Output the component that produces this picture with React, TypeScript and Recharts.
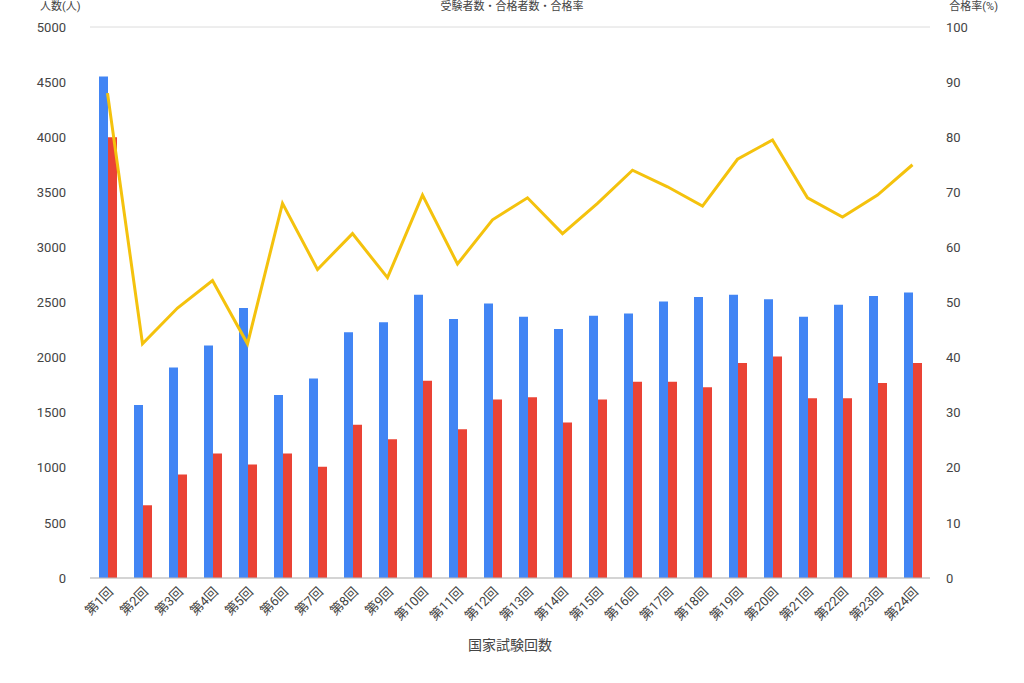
import { Bar, CartesianGrid, ComposedChart, Line, XAxis, YAxis } from "recharts";

// 国家試験 受験者数・合格者数・合格率

const rounds = [
  "第1回", "第2回", "第3回", "第4回", "第5回", "第6回", "第7回", "第8回",
  "第9回", "第10回", "第11回", "第12回", "第13回", "第14回", "第15回", "第16回",
  "第17回", "第18回", "第19回", "第20回", "第21回", "第22回", "第23回", "第24回",
];
const examinees = [
  4550, 1570, 1910, 2110, 2450, 1660, 1810, 2230, 2320, 2570, 2350, 2490,
  2370, 2260, 2380, 2400, 2510, 2550, 2570, 2530, 2370, 2480, 2560, 2590,
];
const passers = [
  4000, 660, 940, 1130, 1030, 1130, 1010, 1390, 1260, 1790, 1350, 1620,
  1640, 1410, 1620, 1780, 1780, 1730, 1950, 2010, 1630, 1630, 1770, 1950,
];
const passRate = [
  88, 42.5, 49, 54, 42.5, 68, 56, 62.5, 54.5, 69.5, 57, 65,
  69, 62.5, 68, 74, 71, 67.5, 76, 79.5, 69, 65.5, 69.5, 75,
];
const leftTicks = [0, 500, 1000, 1500, 2000, 2500, 3000, 3500, 4000, 4500, 5000];
const rightTicks = [0, 10, 20, 30, 40, 50, 60, 70, 80, 90, 100];

const data = rounds.map((r, i) => ({
  round: r,
  examinees: examinees[i],
  passers: passers[i],
  rate: passRate[i],
}));

const FONT = "Roboto, 'Noto Sans CJK JP', sans-serif";
const TICK = { fill: "#444", fontSize: 13, fontFamily: FONT };
const HEAD = { position: "absolute", top: 1, fontSize: 11, color: "#444", lineHeight: "12px" } as const;

export default function App() {
  return (
    <div style={{ position: "absolute", left: 0, top: 0, width: 1024, height: 683, background: "#fff", overflow: "hidden", fontFamily: FONT }}>
      <div style={{ ...HEAD, left: 40 }}>人数(人)</div>
      <div style={{ ...HEAD, left: 0, width: 1024, textAlign: "center" }}>受験者数・合格者数・合格率</div>
      <div style={{ ...HEAD, right: 26 }}>合格率(%)</div>
      <ComposedChart
        width={1024}
        height={683}
        data={data}
        margin={{ top: 27, right: 34, bottom: 45, left: 0 }}
        barGap={0}
        barSize={9}
      >
        <CartesianGrid vertical={false} stroke="#dcdcdc" />
        <XAxis
          dataKey="round"
          interval={0}
          angle={-45}
          textAnchor="end"
          height={60}
          tick={TICK}
          tickLine={false}
          axisLine={{ stroke: "#bbb" }}
          label={{ value: "国家試験回数", position: "bottom", offset: 2, fill: "#444", fontSize: 14, fontFamily: FONT }}
        />
        <YAxis
          yAxisId="n"
          domain={[0, 5000]}
          ticks={leftTicks}
          width={90}
          tickMargin={18}
          tick={TICK}
          axisLine={false}
          tickLine={false}
        />
        <YAxis
          yAxisId="r"
          orientation="right"
          domain={[0, 100]}
          ticks={rightTicks}
          width={60}
          tickMargin={10}
          tick={{ ...TICK, textAnchor: "start" }}
          axisLine={false}
          tickLine={false}
        />
        <Bar yAxisId="n" dataKey="examinees" fill="#4285f4" isAnimationActive={false} />
        <Bar yAxisId="n" dataKey="passers" fill="#ea4335" isAnimationActive={false} />
        <Line
          yAxisId="r"
          type="linear"
          dataKey="rate"
          stroke="#f4c20d"
          strokeWidth={3}
          dot={false}
          isAnimationActive={false}
        />
      </ComposedChart>
    </div>
  );
}
